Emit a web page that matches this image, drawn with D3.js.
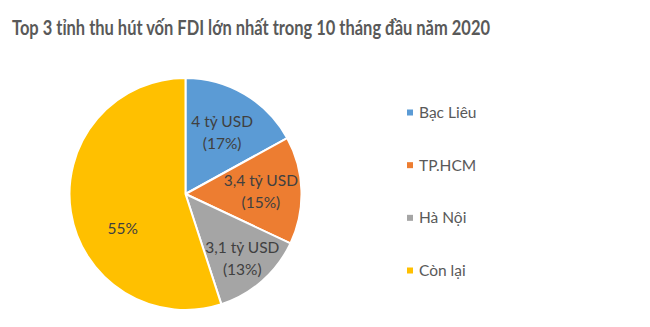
<!DOCTYPE html>
<html>
<head>
<meta charset="utf-8">
<script src="https://cdn.jsdelivr.net/npm/d3@7"></script>
<style>
  html, body { margin: 0; padding: 0; background: #fff; }
  svg text { font-family: Lato, "Open Sans", sans-serif; }
</style>
</head>
<body>
<svg id="chart" width="650" height="327"></svg>
<script>
// FDI share by province, first 10 months of 2020
const categories = ["Bạc Liêu", "TP.HCM", "Hà Nội", "Còn lại"];
const shares = [17, 15, 13, 55];            // percent of total registered FDI
const amounts = ["4", "3,4", "3,1", null];  // tỷ USD (null: no amount shown)
const colors = ["#5B9BD5", "#ED7D31", "#A5A5A5", "#FFC000"];
const title = "Top 3 tỉnh thu hút vốn FDI lớn nhất trong 10 tháng đầu năm 2020";

const svg = d3.select("#chart");
const W = 650, H = 327;

svg.append("rect").attr("width", W).attr("height", H).attr("fill", "#fff");

// Title
svg.append("text")
  .attr("x", 12).attr("y", 35)
  .attr("font-size", 20.5).attr("font-weight", "bold")
  .attr("fill", "#595959")
  .attr("textLength", 478).attr("lengthAdjust", "spacingAndGlyphs")
  .text(title);

// Pie
const cx = 185.5, cy = 194, r = 116;
const g = svg.append("g").attr("transform", `translate(${cx},${cy})`);

const pie = d3.pie().value(d => d).sort(null);
const arcs = pie(shares);
const arc = d3.arc().innerRadius(0).outerRadius(r);

g.selectAll("path.slice")
  .data(arcs)
  .join("path")
  .attr("class", "slice")
  .attr("d", arc)
  .attr("fill", (d, i) => colors[i])
  .attr("stroke", "#fff")
  .attr("stroke-width", 2)
  .attr("stroke-linejoin", "round");

// Data labels: radial distance per slice, large slice label shifted toward its lower part
const labelRadius = [0.62, 0.65, 0.74, 0.62];
const labelAngleShift = [0, 0, 0, -0.35];
const labels = g.selectAll("g.lbl")
  .data(arcs)
  .join("g")
  .attr("class", "lbl")
  .attr("transform", (d, i) => {
    const a = (d.startAngle + d.endAngle) / 2 + labelAngleShift[i];
    const rr = r * labelRadius[i];
    return `translate(${Math.sin(a) * rr},${-Math.cos(a) * rr})`;
  });

labels.each(function (d, i) {
  const sel = d3.select(this);
  const lines = amounts[i] ? [amounts[i] + " tỷ USD", "(" + shares[i] + "%)"] : [shares[i] + "%"];
  const lh = 22;
  lines.forEach((t, k) => {
    sel.append("text")
      .attr("x", 0)
      .attr("y", (k - (lines.length - 1) / 2) * lh)
      .attr("dy", "0.35em")
      .attr("text-anchor", "middle")
      .attr("font-size", 15.5)
      .attr("fill", "#404040")
      .text(t);
  });
});

// Legend
const legendY = d3.scalePoint().domain(categories).range([112.5, 270.5]);
const lg = svg.append("g");
const items = lg.selectAll("g.item")
  .data(categories)
  .join("g")
  .attr("class", "item")
  .attr("transform", d => `translate(407,${legendY(d)})`);

items.append("rect")
  .attr("x", 0).attr("y", -3)
  .attr("width", 6).attr("height", 6)
  .attr("fill", (d, i) => colors[i]);

items.append("text")
  .attr("x", 12).attr("y", 0).attr("dy", "0.35em")
  .attr("font-size", 15.5)
  .attr("fill", "#595959")
  .text(d => d);
</script>
</body>
</html>
